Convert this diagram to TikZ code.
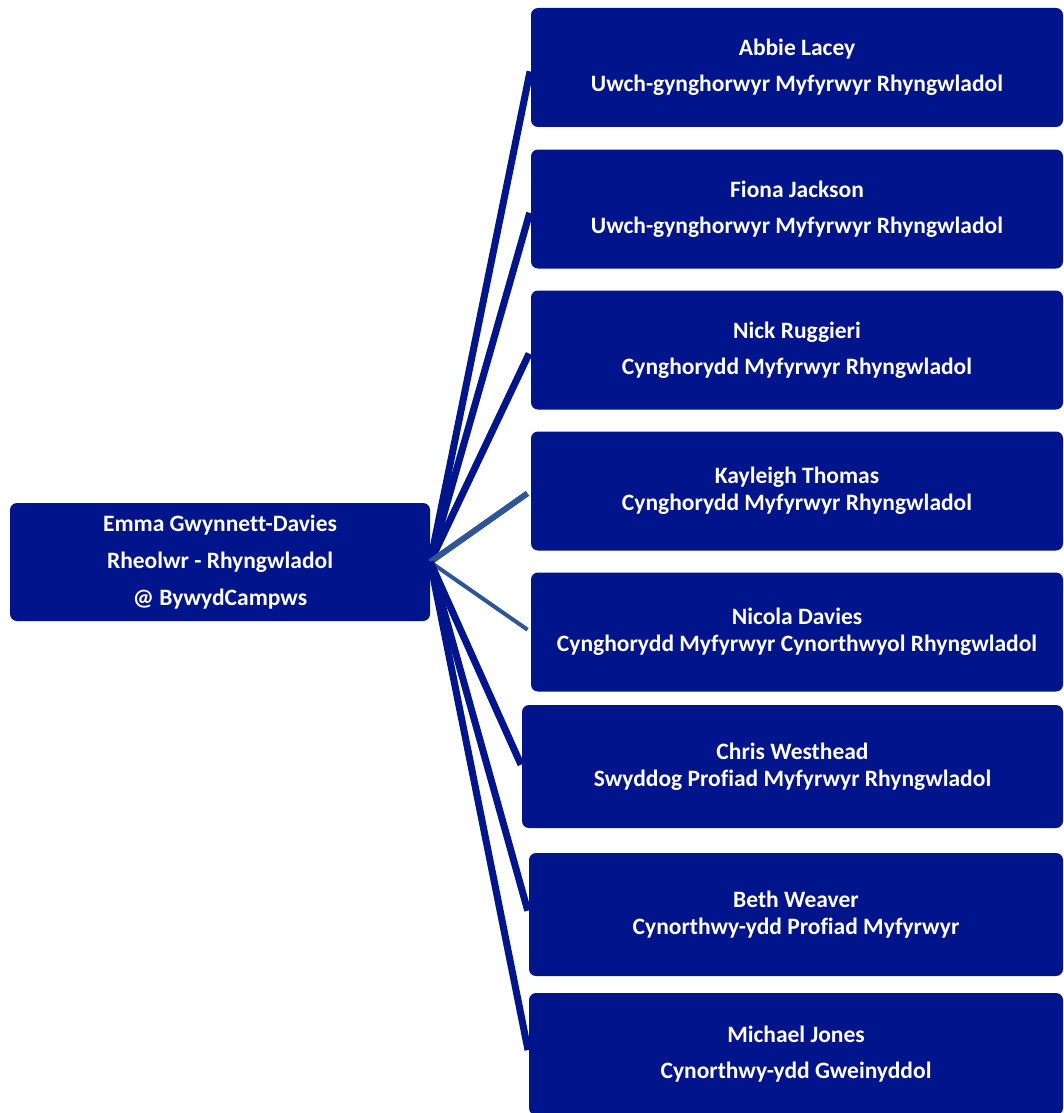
\documentclass[tikz,border=0pt]{standalone}
\usepackage{fontspec}
\setmainfont[Ligatures=CommonOff]{Carlito}
\definecolor{navy}{RGB}{0,20,140}
\definecolor{steel}{RGB}{47,85,151}
\begin{document}
\begin{tikzpicture}[x=1pt,y=-1pt,
  box/.style = {fill=navy, rounded corners=7pt, text=white,
    align=center, inner sep=0pt, minimum width=532pt, minimum height=119pt,
    font=\bfseries\fontsize{23.5}{36}\selectfont},
  tight/.style = {font=\bfseries\fontsize{23.5}{27}\selectfont},
  link/.style = {navy, line width=7pt, shorten >=4pt}]
\useasboundingbox (0,0) rectangle (1063,1113);
\node[box, minimum width=420pt, minimum height=118pt, font=\bfseries\fontsize{23.5}{37}\selectfont] (emma) at (220,562)
  {Emma Gwynnett-Davies\\Rheolwr - Rhyngwladol\\@ BywydCampws};
\node[box] (abbie) at (797,67.5) {Abbie Lacey\\Uwch-gynghorwyr Myfyrwyr Rhyngwladol};
\node[box] (fiona) at (797,209) {Fiona Jackson\\Uwch-gynghorwyr Myfyrwyr Rhyngwladol};
\node[box] (nick) at (797,350) {Nick Ruggieri\\Cynghorydd Myfyrwyr Rhyngwladol};
\node[box, tight] (kayleigh) at (797,491) {Kayleigh Thomas\\Cynghorydd Myfyrwyr Rhyngwladol};
\node[box, tight] (nicola) at (797,632) {Nicola Davies\\Cynghorydd Myfyrwyr Cynorthwyol Rhyngwladol};
\node[box, tight, minimum width=541pt, minimum height=123pt] (chris) at (792.5,766.5) {Chris Westhead\\Swyddog Profiad Myfyrwyr Rhyngwladol};
\node[box, tight, minimum width=534pt, minimum height=123pt] (beth) at (796,914.5) {Beth Weaver\\Cynorthwy-ydd Profiad Myfyrwyr};
\node[box, minimum width=534pt, minimum height=122pt] (michael) at (796,1054) {Michael Jones\\Cynorthwy-ydd Gweinyddol};
\draw [link] (emma.east) -- (abbie.west);
\draw [link] (emma.east) -- (fiona.west);
\draw [link] (emma.east) -- (nick.west);
\draw [link, steel, line width=6pt] (emma.east) -- (kayleigh.west);
\draw [link, steel, line width=4pt] (emma.east) -- (nicola.west);
\draw [link, shorten >=2pt] (emma.east) -- (chris.west);
\draw [link] (emma.east) -- (beth.west);
\draw [link] (emma.east) -- (michael.west);
\end{tikzpicture}
\end{document}
